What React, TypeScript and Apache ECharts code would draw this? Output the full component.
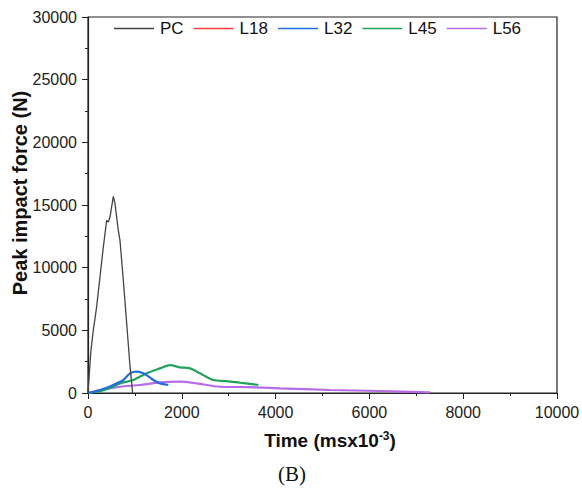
import React, { useEffect, useRef } from "react";
import * as echarts from "echarts";

const pcTime = [0, 15, 60, 113, 184, 256, 327, 398, 433, 469, 540, 576, 646, 682, 753, 825, 896, 952];
const pcForce = [0, 0, 3300, 5000, 6870, 9260, 11650, 13770, 13640, 14040, 15680, 15100, 12980, 12180, 9000, 5550, 2100, 0];

const l18Time: number[] = [];
const l18Force: number[] = [];

const l32Time = [0, 100, 256, 400, 540, 650, 753, 896, 1037, 1150, 1250, 1393, 1535, 1713];
const l32Force = [0, 60, 240, 420, 640, 830, 1035, 1570, 1700, 1620, 1430, 1035, 770, 640];

const l45Time = [0, 256, 500, 682, 966, 1250, 1535, 1748, 1962, 2175, 2388, 2672, 2957, 3241, 3632];
const l45Force = [0, 150, 450, 770, 1035, 1570, 1965, 2230, 2045, 1965, 1570, 1035, 955, 820, 640];

const l56Time = [0, 256, 682, 1108, 1535, 1962, 2317, 2815, 3383, 4093, 5160, 6226, 7292];
const l56Force = [0, 240, 500, 640, 850, 900, 770, 500, 470, 370, 240, 160, 55];

const seriesNames = ["PC", "L18", "L32", "L45", "L56"];
const xTicks = { min: 0, max: 10000, interval: 2000 };
const yTicks = { min: 0, max: 30000, interval: 5000 };
const xTitle = "{t|Time (msx10}{s|-3}{t|)}";
const yTitle = "Peak impact force (N)";
const panelLabel = "(B)";

const zip = (t: number[], f: number[]) => t.map((v, i) => [v, f[i]]);

export default function App() {
  const ref = useRef<HTMLDivElement>(null);
  useEffect(() => {
    document.body.style.margin = "0";
    const chart = echarts.init(ref.current!, null, { renderer: "svg" });
    const font = "'Liberation Sans', Arial, sans-serif";
    const colors = ["#444444", "#ff3b3b", "#1f6fdc", "#22a35a", "#b56ce6"];
    const data = [
      zip(pcTime, pcForce),
      zip(l18Time, l18Force),
      zip(l32Time, l32Force),
      zip(l45Time, l45Force),
      zip(l56Time, l56Force),
    ];
    const widths = [1.3, 2, 2.2, 2.2, 2.2];
    const axisCommon = {
      axisLine: { show: true, lineStyle: { color: "#222", width: 1.2 } },
      axisTick: { show: true, length: 6, inside: false, lineStyle: { color: "#222" } },
      minorTick: { show: true, splitNumber: 2, length: 3, lineStyle: { color: "#222" } },
      splitLine: { show: false },
    };
    chart.setOption({
      animation: false,
      backgroundColor: "#fff",
      grid: {
        left: 88,
        right: 25,
        top: 17,
        bottom: 95,
        outerBoundsMode: "none",
        containLabel: false,
        show: true,
        borderColor: "#222",
        borderWidth: 1.2,
      },
      legend: {
        top: 15,
        left: 109,
        icon: "rect",
        itemWidth: 40,
        itemHeight: 1.5,
        itemGap: 10,
        textStyle: { fontFamily: font, fontSize: 17, color: "#111", padding: [0, 0, 0, 1] },
        data: seriesNames,
      },
      xAxis: {
        type: "value",
        min: xTicks.min,
        max: xTicks.max,
        interval: xTicks.interval,
        ...axisCommon,
        axisLabel: { fontFamily: font, fontSize: 16, color: "#222", margin: 11, formatter: (v: number) => String(v) },
      },
      yAxis: {
        type: "value",
        min: yTicks.min,
        max: yTicks.max,
        interval: yTicks.interval,
        ...axisCommon,
        axisLabel: { fontFamily: font, fontSize: 16, color: "#222", margin: 11, formatter: (v: number) => String(v) },
      },
      graphic: [
        {
          type: "text",
          x: 330,
          y: 440,
          style: {
            text: xTitle,
            align: "center",
            verticalAlign: "middle",
            rich: {
              t: { fontFamily: font, fontSize: 19, fontWeight: "bold", fill: "#111", color: "#111" },
              s: { fontFamily: font, fontSize: 12, fontWeight: "bold", fill: "#111", color: "#111", verticalAlign: "top", padding: [0, 0, 8, 0] },
            },
          },
        },
        {
          type: "text",
          x: 20,
          y: 193,
          rotation: Math.PI / 2,
          style: {
            text: yTitle,
            align: "center",
            verticalAlign: "middle",
            font: "bold 20px 'Liberation Sans', Arial, sans-serif",
            fill: "#111",
          },
        },
        {
          type: "text",
          x: 292,
          y: 474,
          style: {
            text: panelLabel,
            align: "center",
            verticalAlign: "middle",
            font: "21px 'Liberation Serif', 'Times New Roman', serif",
            fill: "#111",
          },
        },
      ],
      series: seriesNames.map((name, i) => ({
        name,
        type: "line",
        data: data[i],
        symbol: "none",
        smooth: i === 0 ? false : 0.3,
        color: colors[i],
        lineStyle: { color: colors[i], width: widths[i] },
        z: 10 - i,
      })),
    });
    return () => chart.dispose();
  }, []);
  return <div ref={ref} style={{ width: 582, height: 488 }} />;
}
